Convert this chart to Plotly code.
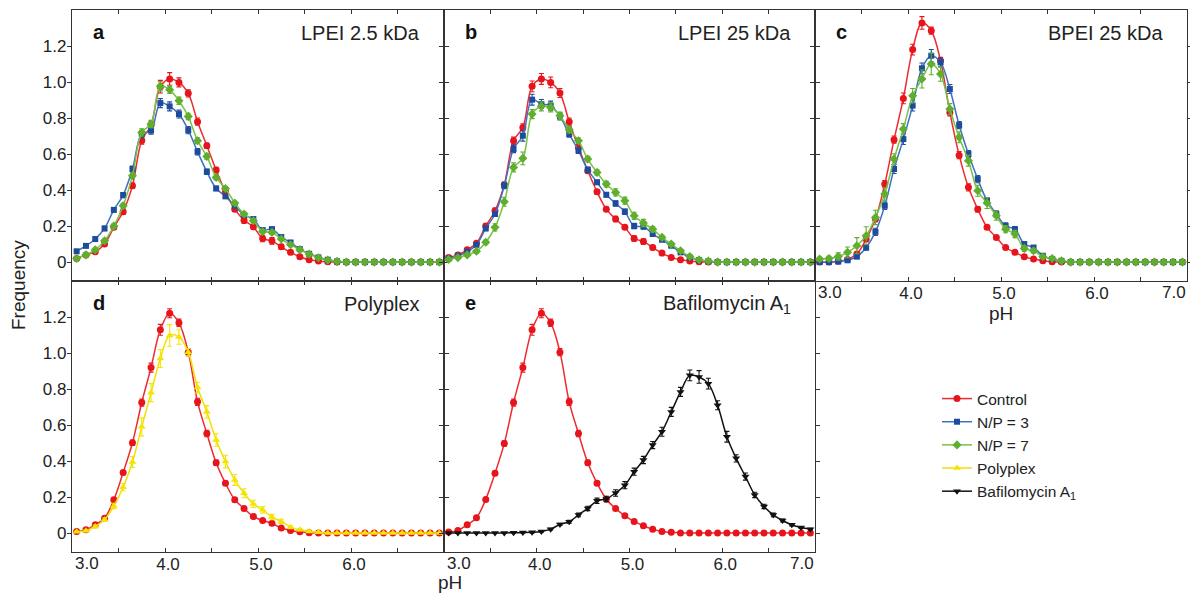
import plotly.graph_objects as go

# ---------------- data ----------------
ph = [3.05, 3.15, 3.25, 3.35, 3.45, 3.55, 3.65, 3.75, 3.85, 3.95,
      4.05, 4.15, 4.25, 4.35, 4.45, 4.55, 4.65, 4.75, 4.85, 4.95,
      5.05, 5.15, 5.25, 5.35, 5.45, 5.55, 5.65, 5.75, 5.85, 5.95,
      6.05, 6.15, 6.25, 6.35, 6.45, 6.55, 6.65, 6.75, 6.85, 6.95]

# panel a : LPEI 2.5 kDa
a_control = [0.02, 0.04, 0.057, 0.10, 0.193, 0.28, 0.424, 0.675, 0.76, 0.974,
             1.017, 0.998, 0.937, 0.78, 0.646, 0.511, 0.39, 0.294, 0.233, 0.196,
             0.131, 0.118, 0.085, 0.054, 0.03, 0.013, 0.006, 0.002] + [0] * 12
a_np3 = [0.06, 0.09, 0.128, 0.187, 0.29, 0.372, 0.517, 0.711, 0.73, 0.883,
         0.865, 0.822, 0.733, 0.613, 0.502, 0.409, 0.365, 0.313, 0.261, 0.239,
         0.178, 0.183, 0.139, 0.109, 0.072, 0.046, 0.026, 0.013, 0.004] + [0] * 11
a_np7 = [0.02, 0.04, 0.068, 0.118, 0.2, 0.313, 0.48, 0.72, 0.767, 0.976,
         0.957, 0.896, 0.809, 0.674, 0.587, 0.47, 0.409, 0.328, 0.267, 0.23,
         0.17, 0.165, 0.128, 0.096, 0.069, 0.044, 0.024, 0.011, 0.004] + [0] * 11

# panel b : LPEI 25 kDa
b_control = [0.026, 0.04, 0.068, 0.104, 0.2, 0.285, 0.43, 0.674, 0.748, 0.976,
             1.017, 0.998, 0.939, 0.78, 0.637, 0.507, 0.39, 0.294, 0.239, 0.193,
             0.131, 0.115, 0.081, 0.05, 0.026, 0.013, 0.006, 0.002] + [0] * 12
b_np3 = [0.02, 0.035, 0.057, 0.096, 0.187, 0.267, 0.424, 0.628, 0.702, 0.902,
         0.878, 0.869, 0.809, 0.711, 0.619, 0.513, 0.443, 0.374, 0.326, 0.28,
         0.2, 0.198, 0.156, 0.124, 0.091, 0.054, 0.026, 0.011, 0.004] + [0] * 11
b_np7 = [0.015, 0.025, 0.04, 0.06, 0.11, 0.193, 0.335, 0.526, 0.576, 0.822,
         0.865, 0.859, 0.813, 0.735, 0.674, 0.572, 0.498, 0.433, 0.387, 0.341,
         0.257, 0.217, 0.183, 0.137, 0.1, 0.063, 0.031, 0.013, 0.006] + [0] * 11

# panel c : BPEI 25 kDa
c_control = [0, 0, 0.004, 0.015, 0.045, 0.128, 0.239, 0.433, 0.68, 0.909,
             1.18, 1.328, 1.285, 1.118, 0.831, 0.594, 0.415, 0.294, 0.193, 0.137,
             0.081, 0.054, 0.03, 0.017, 0.007, 0.002] + [0] * 14
c_np3 = [0, 0, 0.003, 0.01, 0.03, 0.081, 0.168, 0.313, 0.517, 0.683,
         0.869, 1.076, 1.146, 1.109, 0.961, 0.761, 0.6, 0.461, 0.341, 0.267,
         0.2, 0.183, 0.1, 0.081, 0.035, 0.017, 0.007] + [0] * 13
c_np7 = [0.017, 0.02, 0.031, 0.054, 0.091, 0.146, 0.248, 0.378, 0.572, 0.739,
         0.924, 1.017, 1.1, 1.044, 0.85, 0.693, 0.563, 0.396, 0.328, 0.257,
         0.183, 0.156, 0.076, 0.063, 0.03, 0.02, 0.007] + [0] * 13

# panel d : Polyplex
d_control = [0.009, 0.018, 0.046, 0.083, 0.185, 0.336, 0.502, 0.725, 0.919, 1.129,
             1.221, 1.168, 1.005, 0.729, 0.553, 0.391, 0.277, 0.185, 0.137, 0.092,
             0.07, 0.055, 0.028, 0.015, 0.007, 0.002] + [0] * 14
d_polyplex = [0.007, 0.013, 0.037, 0.074, 0.151, 0.255, 0.395, 0.59, 0.78, 0.97,
              1.098, 1.089, 1.005, 0.808, 0.673, 0.517, 0.397, 0.295, 0.221, 0.162,
              0.129, 0.089, 0.065, 0.033, 0.018, 0.009, 0.004] + [0] * 13

# panel e : Bafilomycin A1
e_control = [0.006, 0.015, 0.046, 0.085, 0.187, 0.332, 0.498, 0.725, 0.919, 1.129,
             1.221, 1.168, 1.005, 0.729, 0.553, 0.391, 0.277, 0.188, 0.137, 0.096,
             0.065, 0.041, 0.022, 0.009, 0.004, 0.001] + [0] * 14
e_bafilomycin = [0, 0, 0, 0, 0, 0.001, 0.001, 0.002, 0.003, 0.004,
                 0.009, 0.022, 0.048, 0.063, 0.101, 0.137, 0.179, 0.19, 0.223, 0.266,
                 0.341, 0.406, 0.489, 0.563, 0.673, 0.784, 0.876, 0.867, 0.83, 0.71,
                 0.535, 0.415, 0.314, 0.212, 0.148, 0.101, 0.07, 0.046, 0.031, 0.022]

# error bars (approximate)
err_a_control = [0.006, 0.006, 0.008, 0.01, 0.012, 0.015, 0.015, 0.02, 0.02, 0.035,
                 0.035, 0.025, 0.02, 0.02, 0.015, 0.015, 0.012, 0.012, 0.018, 0.012,
                 0.018, 0.018, 0.014, 0.01, 0.006, 0.004, 0.003, 0.002] + [0] * 12
err_a_np3 = [0.008, 0.008, 0.01, 0.012, 0.012, 0.014, 0.016, 0.02, 0.02, 0.025,
             0.025, 0.022, 0.02, 0.018, 0.015, 0.012, 0.01, 0.01, 0.01, 0.01,
             0.01, 0.01, 0.008, 0.006, 0.005, 0.004, 0.003, 0.002, 0.001] + [0] * 11
err_a_np7 = [0.005, 0.006, 0.008, 0.01, 0.012, 0.014, 0.016, 0.02, 0.02, 0.025,
             0.02, 0.02, 0.018, 0.016, 0.015, 0.012, 0.01, 0.01, 0.01, 0.01,
             0.01, 0.01, 0.008, 0.006, 0.005, 0.004, 0.003, 0.002, 0.001] + [0] * 11
err_b_control = [0.006, 0.006, 0.008, 0.01, 0.012, 0.015, 0.015, 0.02, 0.02, 0.03,
                 0.03, 0.03, 0.025, 0.02, 0.015, 0.015, 0.012, 0.012, 0.015, 0.012,
                 0.015, 0.015, 0.012, 0.008, 0.006, 0.004, 0.003, 0.002] + [0] * 12
err_b_np3 = [0.006, 0.006, 0.008, 0.01, 0.012, 0.014, 0.016, 0.02, 0.03, 0.03,
             0.025, 0.025, 0.02, 0.018, 0.015, 0.015, 0.012, 0.012, 0.015, 0.015,
             0.015, 0.015, 0.012, 0.01, 0.008, 0.006, 0.004, 0.003, 0.002] + [0] * 11
err_b_np7 = [0.005, 0.006, 0.008, 0.01, 0.012, 0.02, 0.025, 0.025, 0.035, 0.025,
             0.025, 0.025, 0.02, 0.018, 0.015, 0.015, 0.015, 0.015, 0.02, 0.02,
             0.02, 0.02, 0.015, 0.012, 0.01, 0.008, 0.005, 0.003, 0.002] + [0] * 11
err_c_control = [0, 0, 0.003, 0.005, 0.01, 0.015, 0.015, 0.02, 0.02, 0.03,
                 0.03, 0.035, 0.02, 0.02, 0.02, 0.02, 0.02, 0.015, 0.012, 0.01,
                 0.008, 0.006, 0.004, 0.003, 0.002, 0.001] + [0] * 14
err_c_np3 = [0, 0, 0.003, 0.005, 0.01, 0.015, 0.02, 0.02, 0.025, 0.03,
             0.03, 0.03, 0.035, 0.025, 0.025, 0.02, 0.02, 0.02, 0.018, 0.018,
             0.018, 0.015, 0.012, 0.01, 0.006, 0.004, 0.002] + [0] * 13
err_c_np7 = [0.01, 0.012, 0.02, 0.03, 0.045, 0.05, 0.04, 0.035, 0.03, 0.03,
             0.04, 0.05, 0.06, 0.04, 0.03, 0.03, 0.03, 0.03, 0.03, 0.025,
             0.02, 0.02, 0.015, 0.012, 0.008, 0.005, 0.003] + [0] * 13
err_d_control = [0.004, 0.005, 0.006, 0.008, 0.01, 0.012, 0.015, 0.02, 0.025, 0.03,
                 0.025, 0.02, 0.02, 0.02, 0.018, 0.015, 0.012, 0.01, 0.008, 0.008,
                 0.006, 0.005, 0.004, 0.003, 0.002, 0.001] + [0] * 14
err_d_polyplex = [0.004, 0.005, 0.008, 0.01, 0.015, 0.02, 0.03, 0.05, 0.05, 0.05,
                  0.06, 0.04, 0.02, 0.03, 0.035, 0.035, 0.035, 0.03, 0.025, 0.02,
                  0.018, 0.015, 0.012, 0.008, 0.005, 0.003, 0.002] + [0] * 13
err_e_control = [0.004, 0.005, 0.006, 0.008, 0.01, 0.012, 0.015, 0.02, 0.025, 0.03,
                 0.025, 0.02, 0.02, 0.02, 0.018, 0.015, 0.012, 0.01, 0.008, 0.006,
                 0.005, 0.004, 0.003, 0.002, 0.001, 0.001] + [0] * 14
err_e_bafilomycin = [0, 0, 0, 0, 0, 0, 0, 0.001, 0.002, 0.003,
                     0.004, 0.005, 0.006, 0.008, 0.01, 0.012, 0.015, 0.015, 0.018, 0.02,
                     0.02, 0.02, 0.02, 0.025, 0.025, 0.025, 0.03, 0.035, 0.03, 0.025,
                     0.03, 0.02, 0.02, 0.015, 0.012, 0.01, 0.008, 0.006, 0.005, 0.004]

x_labels = ["4.0", "5.0", "6.0"]
x_label_vals = [4.0, 5.0, 6.0]
x_edge_labels = ["3.0", "7.0"]
y_tick_vals = [0, 0.2, 0.4, 0.6, 0.8, 1.0, 1.2]
y_tick_text = ["0", "0.2", "0.4", "0.6", "0.8", "1.0", "1.2"]

# ---------------- styles ----------------
FONT = "Liberation Sans, Arial, Helvetica, sans-serif"
W, H = 1190, 596
AXC = "#333333"
TXT = "#222222"
styles = {
    "Control": dict(mc="#e8141c", lc="#ee2a30", symbol="circle", size=7),
    "N/P = 3": dict(mc="#1d4c9e", lc="#3d6fc4", symbol="square", size=6),
    "N/P = 7": dict(mc="#5fae2e", lc="#78c144", symbol="diamond", size=7),
    "Polyplex": dict(mc="#f4e404", lc="#f2e000", symbol="triangle-up", size=7),
    "Bafilomycin A<sub>1</sub>": dict(mc="#111111", lc="#111111", symbol="triangle-down", size=7),
}

X_DOM = [(72, 444), (444, 815), (815, 1187)]
Y_DOM = [(10, 281), (281, 552)]

panels = [
    dict(letter="a", title="LPEI 2.5 kDa", col=0, row=0, ylab=True, xlab=False, edge7=False,
         series=[("Control", a_control, err_a_control), ("N/P = 3", a_np3, err_a_np3), ("N/P = 7", a_np7, err_a_np7)]),
    dict(letter="b", title="LPEI 25 kDa", col=1, row=0, ylab=False, xlab=False, edge7=False,
         series=[("Control", b_control, err_b_control), ("N/P = 3", b_np3, err_b_np3), ("N/P = 7", b_np7, err_b_np7)]),
    dict(letter="c", title="BPEI 25 kDa", col=2, row=0, ylab=False, xlab=True, edge7=True,
         series=[("Control", c_control, err_c_control), ("N/P = 3", c_np3, err_c_np3), ("N/P = 7", c_np7, err_c_np7)]),
    dict(letter="d", title="Polyplex", col=0, row=1, ylab=True, xlab=True, edge7=False,
         series=[("Control", d_control, err_d_control), ("Polyplex", d_polyplex, err_d_polyplex)]),
    dict(letter="e", title="Bafilomycin A<sub>1</sub>", col=1, row=1, ylab=False, xlab=True, edge7=True,
         series=[("Control", e_control, err_e_control), ("Bafilomycin A<sub>1</sub>", e_bafilomycin, err_e_bafilomycin)]),
]

fig = go.Figure()
shown = set()
annotations = []
layout_axes = {}

for i, p in enumerate(panels):
    n = i + 1
    xa = "x" if n == 1 else f"x{n}"
    ya = "y" if n == 1 else f"y{n}"
    xkey = "xaxis" if n == 1 else f"xaxis{n}"
    ykey = "yaxis" if n == 1 else f"yaxis{n}"
    x0, x1 = X_DOM[p["col"]]
    y0, y1 = Y_DOM[p["row"]]

    for name, vals, errs in p["series"]:
        st = styles[name]
        show = name not in shown
        shown.add(name)
        fig.add_trace(go.Scatter(
            x=ph, y=vals, xaxis=xa, yaxis=ya, name=name,
            showlegend=show, mode="lines+markers",
            line=dict(color=st["lc"], width=1.5, shape="spline", smoothing=1.0),
            marker=dict(color=st["mc"], symbol=st["symbol"], size=st["size"], line=dict(width=0)),
            error_y=dict(type="data", array=errs, visible=True, color=st["mc"], thickness=1.1, width=2.5),
        ))

    tickvals = [3.5, 4.0, 4.5, 5.0, 5.5, 6.0, 6.5]
    ticktext = []
    for v in tickvals:
        if p["xlab"] and v in x_label_vals:
            ticktext.append(x_labels[x_label_vals.index(v)])
        else:
            ticktext.append("")
    layout_axes[xkey] = dict(
        domain=[x0 / W, x1 / W], anchor=ya, range=[3.0, 7.0],
        showline=True, linecolor=AXC, linewidth=1.3, mirror="ticks",
        ticks="inside", ticklen=4, tickwidth=1, tickcolor=AXC,
        tickvals=tickvals, ticktext=ticktext, showgrid=False, zeroline=False,
        ticklabelstandoff=-4, ticklabelshift=3,
        tickfont=dict(family=FONT, size=17, color=TXT), automargin=False,
    )
    layout_axes[ykey] = dict(
        domain=[1 - y1 / H, 1 - y0 / H], anchor=xa, range=[-0.105, 1.4],
        showline=True, linecolor=AXC, linewidth=1.3, mirror="ticks",
        ticks="outside", ticklen=4, tickwidth=1, tickcolor=AXC,
        tickvals=y_tick_vals, ticktext=(y_tick_text if p["ylab"] else [""] * len(y_tick_vals)),
        showgrid=False, zeroline=False, ticklabelstandoff=-3,
        tickfont=dict(family=FONT, size=17, color=TXT), automargin=False,
    )

    # panel letter and title
    annotations.append(dict(text=f"<b>{p['letter']}</b>", x=(x0 + 19) / W, y=1 - (y0 + 22) / H,
                            xref="paper", yref="paper", xanchor="left", yanchor="middle",
                            showarrow=False, font=dict(family=FONT, size=20, color="#111111")))
    annotations.append(dict(text=p["title"], x=(x1 - 22) / W, y=1 - (y0 + 23) / H,
                            xref="paper", yref="paper", xanchor="right", yanchor="middle",
                            showarrow=False, font=dict(family=FONT, size=20, color=TXT)))
    # edge tick labels
    if p["xlab"]:
        annotations.append(dict(text=x_edge_labels[0], x=(x0 + 1) / W, y=1 - (y1 + 11) / H,
                                xref="paper", yref="paper", xanchor="left", yanchor="middle",
                                showarrow=False, font=dict(family=FONT, size=17, color=TXT)))
        if p["edge7"]:
            annotations.append(dict(text=x_edge_labels[1], x=(x1 + 1) / W, y=1 - (y1 + 11) / H,
                                    xref="paper", yref="paper", xanchor="right", yanchor="middle",
                                    showarrow=False, font=dict(family=FONT, size=17, color=TXT)))

# axis titles
annotations.append(dict(text="Frequency", x=18 / W, y=1 - 285 / H, xref="paper", yref="paper",
                        textangle=-90, showarrow=False, xanchor="center", yanchor="middle",
                        font=dict(family=FONT, size=19, color=TXT)))
annotations.append(dict(text="pH", x=1001 / W, y=1 - 313 / H, xref="paper", yref="paper",
                        showarrow=False, xanchor="center", yanchor="middle",
                        font=dict(family=FONT, size=19, color=TXT)))
annotations.append(dict(text="pH", x=450 / W, y=1 - 582 / H, xref="paper", yref="paper",
                        showarrow=False, xanchor="center", yanchor="middle",
                        font=dict(family=FONT, size=19, color=TXT)))

fig.update_layout(
    width=W, height=H,
    margin=dict(l=0, r=0, t=0, b=0),
    paper_bgcolor="white", plot_bgcolor="white",
    annotations=annotations,
    legend=dict(x=937 / W, y=1 - 382 / H, xanchor="left", yanchor="top",
                font=dict(family=FONT, size=15.5, color=TXT),
                bgcolor="rgba(0,0,0,0)", borderwidth=0, tracegroupgap=0,
                traceorder="normal"),
    **layout_axes,
)

fig.write_html("out.html", config={"displayModeBar": False},
               post_script="document.body.style.margin='0';document.body.style.overflow='hidden';")
